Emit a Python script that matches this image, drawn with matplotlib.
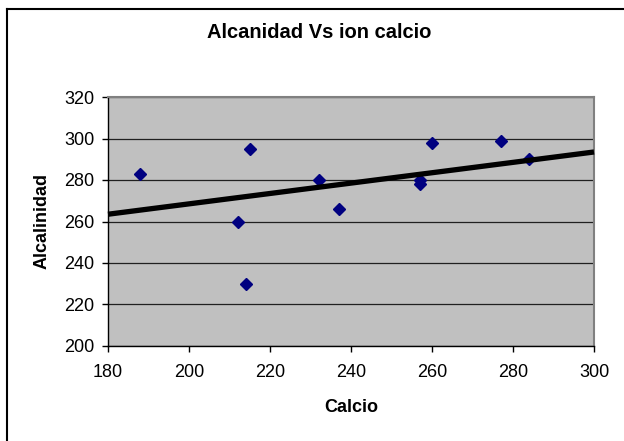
import numpy as np
import matplotlib
matplotlib.use("Agg")
import matplotlib.pyplot as plt
from matplotlib.lines import Line2D

calcio = [188, 215, 232, 212, 214, 237, 260, 257, 257, 277, 284]
alcalinidad = [283, 295, 280, 260, 230, 266, 298, 280, 278, 299, 290]
# linear trendline as drawn in the reference (values at x = 180 and x = 300)
trend_x = [180, 300]
trend_y = [263.5, 293.5]
x_ticks = [180, 200, 220, 240, 260, 280, 300]
y_ticks = [200, 220, 240, 260, 280, 300, 320]

plt.rcParams['font.family'] = ['Liberation Sans', 'DejaVu Sans']

W, H = 624, 441
fig = plt.figure(figsize=(W / 100, H / 100), dpi=100)
fig.patch.set_facecolor('white')

# outer chart border (left and top visible)
fig.add_artist(Line2D([7 / W, 7 / W], [0, 1 - 9 / H], transform=fig.transFigure, color='black', lw=1.5))
fig.add_artist(Line2D([7 / W, 1], [1 - 9 / H, 1 - 9 / H], transform=fig.transFigure, color='black', lw=1.5))

left, right, top, bottom = 108, 594, 97, 346
ax = fig.add_axes([left / W, 1 - bottom / H, (right - left) / W, (bottom - top) / H])
ax.set_facecolor('#c0c0c0')
ax.set_xlim(180, 300)
ax.set_ylim(200, 320)
ax.set_xticks(x_ticks)
ax.set_yticks(y_ticks)
ax.grid(axis='y', color='#202020', lw=0.9)
ax.set_axisbelow(True)
for s in ['top', 'right']:
    ax.spines[s].set_color('#808080')
    ax.spines[s].set_linewidth(1.5)
for s in ['left', 'bottom']:
    ax.spines[s].set_color('black')
    ax.spines[s].set_linewidth(1)
ax.tick_params(direction='out', length=4, width=1, labelsize=13)
ax.tick_params(axis='y', pad=6)
ax.tick_params(axis='x', pad=9)

ax.plot(calcio, alcalinidad, linestyle='none', marker='D', markersize=6.5,
        color='#000080', zorder=3)

ax.plot(trend_x, trend_y, color='black', lw=3.8, zorder=4, clip_on=False, solid_capstyle='butt')

fig.text(351 / W, 1 - 407 / H, 'Calcio', ha='center', va='center',
         fontsize=13, fontweight='bold')
fig.text(42 / W, 1 - 221 / H, 'Alcalinidad', ha='center', va='center',
         fontsize=13, fontweight='bold', rotation=90)
fig.text(319.5 / W, 1 - 33 / H, 'Alcanidad Vs ion calcio', ha='center', va='center',
         fontsize=14.5, fontweight='bold')

fig.savefig('out.png', dpi=100)
